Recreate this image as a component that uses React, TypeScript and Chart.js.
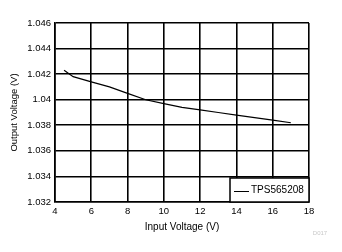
import React, { useEffect, useRef } from "react";
import { Chart, registerables } from "chart.js";

Chart.register(...registerables);

const seriesLabel = "TPS565208";
const inputVoltage = [4.5, 5, 6, 7, 8, 9, 10, 11, 12, 13, 14, 15, 16, 17];
const outputVoltage = [1.0423, 1.0418, 1.0414, 1.041, 1.0405, 1.04, 1.0397, 1.0394, 1.0392, 1.039, 1.0388, 1.0386, 1.0384, 1.0382];
const xTicks = [4, 6, 8, 10, 12, 14, 16, 18];
const yTicks = [1.032, 1.034, 1.036, 1.038, 1.04, 1.042, 1.044, 1.046];
const watermark = "D017";

const FONT = "'Liberation Sans', Arial, sans-serif";

const legendPlugin = {
  id: "boxLegend",
  afterDraw(chart: any) {
    const { ctx, chartArea } = chart;
    const label = chart.data.datasets[0].label as string;
    ctx.save();
    ctx.font = `10px ${FONT}`;
    const tw = ctx.measureText(label).width;
    const lineLen = 15;
    const w = 4 + lineLen + 2 + tw + 5;
    const h = 24;
    const x0 = Math.round(chartArea.right - w);
    const y0 = Math.round(chartArea.bottom - h);
    ctx.fillStyle = "#fff";
    ctx.fillRect(x0, y0, chartArea.right - x0, chartArea.bottom - y0);
    ctx.strokeStyle = "#000";
    ctx.lineWidth = 1.5;
    ctx.strokeRect(x0, y0, chartArea.right - x0, chartArea.bottom - y0);
    const cy = y0 + h / 2 + 0.5;
    ctx.lineWidth = 1;
    ctx.beginPath();
    ctx.moveTo(x0 + 4, Math.round(cy) + 0.5);
    ctx.lineTo(x0 + 4 + lineLen, Math.round(cy) + 0.5);
    ctx.stroke();
    ctx.fillStyle = "#000";
    ctx.textBaseline = "middle";
    ctx.textAlign = "left";
    ctx.fillText(label, x0 + 4 + lineLen + 2, cy);
    // watermark
    ctx.font = `6px ${FONT}`;
    ctx.fillStyle = "#c8c8c8";
    ctx.textAlign = "center";
    ctx.fillText(watermark, 320, 233);
    ctx.restore();
  },
};

export default function App() {
  const ref = useRef<HTMLCanvasElement>(null);
  useEffect(() => {
    if (!ref.current) return;
    const chart = new Chart(ref.current, {
      type: "scatter",
      data: {
        datasets: [
          {
            label: seriesLabel,
            data: inputVoltage.map((x, i) => ({ x, y: outputVoltage[i] })),
            showLine: true,
            borderColor: "#000",
            borderWidth: 1.2,
            pointRadius: 0,
            tension: 0,
          },
        ],
      },
      options: {
        animation: false,
        responsive: false,
        maintainAspectRatio: false,
        layout: { padding: { left: 0, top: 23, right: 33, bottom: 0 } },
        plugins: { legend: { display: false }, tooltip: { enabled: false } },
        scales: {
          x: {
            type: "linear",
            min: 4,
            max: 18,
            afterBuildTicks: (s: any) => {
              s.ticks = xTicks.map((v) => ({ value: v }));
            },
            afterFit: (s: any) => {
              s.height = 50;
            },
            grid: { color: "#000", lineWidth: 1.6, drawTicks: false },
            border: { color: "#000", width: 1.6 },
            ticks: {
              color: "#000",
              padding: 4,
              font: { family: FONT, size: 9.5 },
              maxRotation: 0,
              callback: (v: any) => String(v),
            },
            title: {
              display: true,
              text: "Input Voltage (V)",
              color: "#000",
              font: { family: FONT, size: 10 },
              padding: { top: 0, bottom: 19 },
            },
          },
          y: {
            type: "linear",
            min: 1.032,
            max: 1.046,
            afterBuildTicks: (s: any) => {
              s.ticks = yTicks.map((v) => ({ value: v }));
            },
            afterFit: (s: any) => {
              s.width = 55;
            },
            grid: { color: "#000", lineWidth: 1.6, drawTicks: false },
            border: { color: "#000", width: 1.6 },
            ticks: {
              color: "#000",
              padding: 4,
              font: { family: FONT, size: 9.5 },
              callback: (v: any) => String(Number(Number(v).toFixed(3))),
            },
            title: {
              display: true,
              text: "Output Voltage (V)",
              color: "#000",
              font: { family: FONT, size: 9.5 },
              padding: { top: 9, bottom: 0 },
            },
          },
        },
      },
      plugins: [legendPlugin],
    } as any);
    return () => chart.destroy();
  }, []);
  return (
    <div style={{ position: "fixed", left: 0, top: 0, width: 342, height: 252, background: "#fff" }}>
      <canvas ref={ref} width={342} height={252} style={{ width: 342, height: 252 }} />
    </div>
  );
}
